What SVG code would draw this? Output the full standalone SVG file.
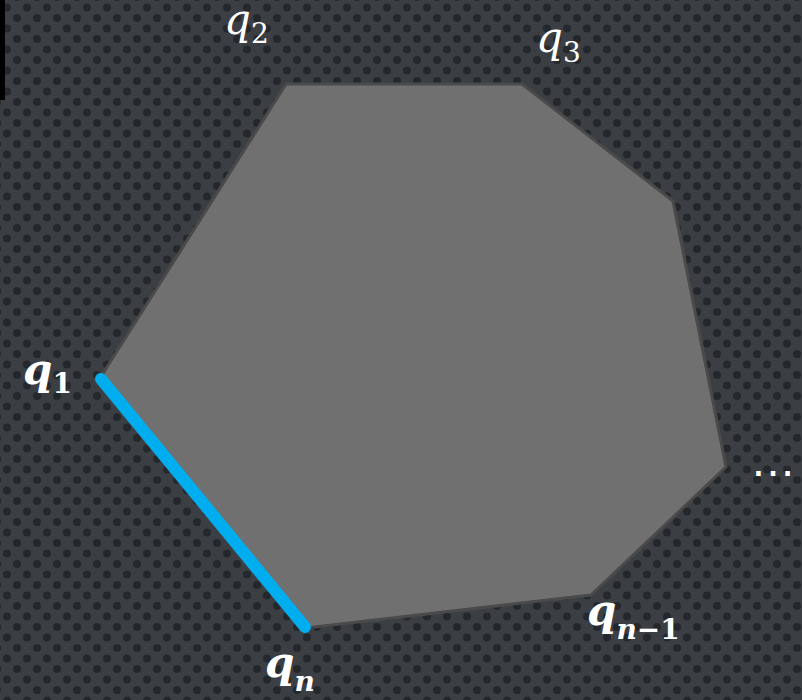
<svg xmlns="http://www.w3.org/2000/svg" width="802" height="700" viewBox="0 0 802 700">
<defs>
<pattern id="dots" width="20" height="21" patternUnits="userSpaceOnUse" x="-7" y="-7">
<rect width="20" height="21" fill="#3b3e43"/>
<circle cx="4" cy="4" r="4" fill="#24272b"/>
<circle cx="14" cy="14.5" r="4" fill="#24272b"/>
</pattern>
<style>
.lbl{font-family:"DejaVu Serif","Liberation Serif",serif;font-style:italic;fill:#ffffff;font-size:42px}
.sub{font-size:28px}
.up{font-style:normal}
.b{font-weight:bold}
</style>
</defs>
<rect width="802" height="700" fill="url(#dots)"/>
<rect x="0" y="0" width="5" height="100" fill="#000000"/>
<g id="polygon">
<polygon points="100,378 286,84 522,84 673,201 726,467 591,595 306,628" fill="#707070" stroke="#4a4a4a" stroke-width="3" stroke-linejoin="miter"/>
</g>
<g id="connectors">
<line x1="101" y1="379" x2="305" y2="627" stroke="#00aeef" stroke-width="12" stroke-linecap="round"/>
</g>
<g id="label-q1"><text class="lbl b" x="23" y="384">q<tspan class="sub up" dy="9">1</tspan></text></g>
<g id="label-q2"><text class="lbl" x="224" y="34">q<tspan class="sub up" dy="9">2</tspan></text></g>
<g id="label-q3"><text class="lbl" x="536" y="52">q<tspan class="sub up" dy="10">3</tspan></text></g>
<g id="label-qn1"><text class="lbl b" x="587" y="625">q<tspan class="sub" dy="14">n</tspan><tspan class="sub up">−1</tspan></text></g>
<g id="label-qn"><text class="lbl b" x="265" y="677">q<tspan class="sub" dy="14">n</tspan></text></g>
<g id="ellipsis"><text x="750" y="476" font-family="Liberation Sans,sans-serif" font-size="46" fill="#ffffff">…</text></g>
</svg>
